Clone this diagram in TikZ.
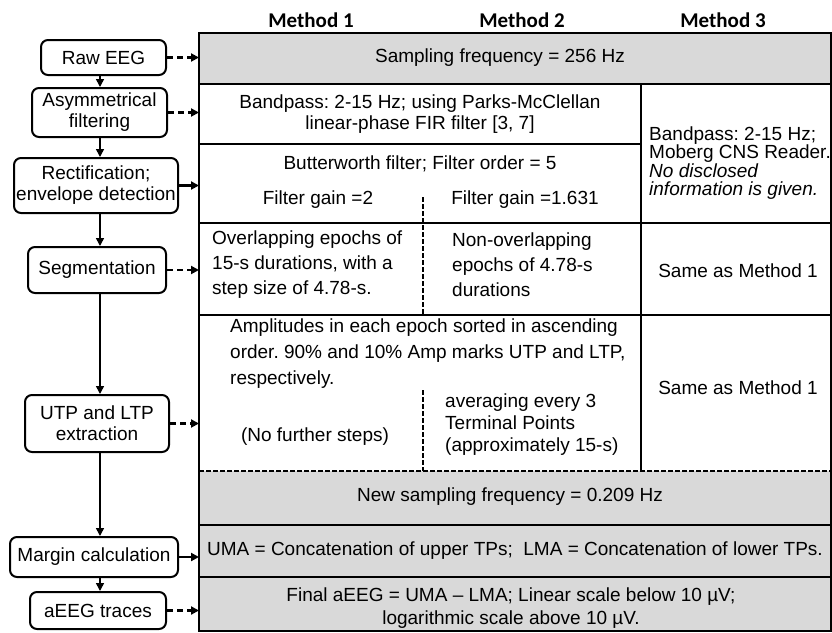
\documentclass[tikz,border=0pt]{standalone}
\usepackage{fontspec}
\setmainfont{Liberation Sans}
\newfontfamily\headfont{Carlito}
\usetikzlibrary{arrows.meta, calc}
\definecolor{cellGray}{gray}{0.85}
\newcommand{\bodyfont}[1]{\fontsize{19}{#1}\selectfont}
\frenchspacing

\begin{document}
\begin{tikzpicture}[x=1pt, y=-1pt,
  every node/.style={inner sep=0pt, font=\bodyfont{21}},
  stage/.style={draw, rounded corners=7pt, line width=2pt, align=center},
  flow/.style={-{Triangle[length=8pt, width=8pt]}, line width=1.5pt},
  link/.style={flow, line width=2.4pt},
  dlink/.style={link, dash pattern=on 6pt off 4pt},
  tabline/.style={line width=2pt},
  tabdash/.style={line width=1.5pt, dash pattern=on 4.5pt off 2.5pt},
  head/.style={font=\headfont\bfseries\fontsize{21}{24}\selectfont}]

  \useasboundingbox (0,0) rectangle (832,632);

  \coordinate (TL) at (199,33);
  \coordinate (BR) at (831,631);
  \coordinate (spine) at (100,0);

  % table
  \fill[cellGray] (TL) rectangle (831,84);
  \fill[cellGray] (199,471) rectangle (BR);
  \draw[tabline] (199,84) -- (831,84);
  \draw[tabline] (199,144) -- (641,144);
  \draw[tabline] (199,223) -- (831,223);
  \draw[tabline] (199,315) -- (831,315);
  \draw[tabdash] (199,471) -- (831,471);
  \draw[tabline] (199,525) -- (831,525);
  \draw[tabline] (199,577) -- (831,577);
  \draw[tabline] (641,84) -- (641,471);
  \draw[tabdash] (423,197) -- (423,315);
  \draw[tabdash] (423,390) -- (423,471);
  \draw[line width=2.4pt] (TL) rectangle (BR);

  \node[head] (m1) at (311,20) {Method 1};
  \node[head] (m2) at (522,20) {Method 2};
  \node[head] (m3) at (723,20) {Method 3};

  \node (fs) at (500,58) {Sampling frequency = 256 Hz};
  \node[align=center] (bp) at (420,114) {Bandpass: 2-15 Hz; using Parks-McClellan\\linear-phase FIR filter [3, 7]};
  \node[anchor=west, align=left, font=\bodyfont{18.5}] (moberg) at (649,163) {Bandpass: 2-15 Hz;\\Moberg CNS Reader.\\\textit{No disclosed}\\\textit{information is given.}};
  \node (bw) at (420,164) {Butterworth filter; Filter order = 5};
  \node (g1) at (318,200) {Filter gain =2};
  \node (g2) at (525,200) {Filter gain =1.631};
  \node[anchor=west, align=left, font=\bodyfont{25}] (ep1) at (212,265) {Overlapping epochs of\\15-s durations, with a\\step size of 4.78-s.};
  \node[anchor=west, align=left, font=\bodyfont{25}] (ep2) at (452,265) {Non-overlapping\\epochs of 4.78-s\\durations};
  \node (same1) at (738,271) {Same as Method 1};
  \node[anchor=west, align=left, font=\bodyfont{26}] (amp) at (230,354) {Amplitudes in each epoch sorted in ascending\\order. 90\% and 10\% Amp marks UTP and LTP,\\respectively.};
  \node (nofur) at (315,437) {(No further steps)};
  \node[anchor=west, align=left, font=\bodyfont{22}] (avg) at (445,425) {averaging every 3\\Terminal Points\\(approximately 15-s)};
  \node (same2) at (738,388) {Same as Method 1};
  \node (nfs) at (510,497) {New sampling frequency = 0.209 Hz};
  \node (uma) at (515,551) {UMA = Concatenation of upper TPs;\ \ LMA = Concatenation of lower TPs.};
  \node[align=center, font=\bodyfont{23}] (fin) at (511,608) {Final aEEG = UMA -- LMA; Linear scale below 10 µV;\\logarithmic scale above 10 µV.};

  % processing stages
  \node[stage, minimum width=125pt, minimum height=35pt] (raw) at (103.5,57.5) {Raw EEG};
  \node[stage, minimum width=135pt, minimum height=49pt] (asym) at (99.5,112.5) {Asymmetrical\\filtering};
  \node[stage, minimum width=164pt, minimum height=55pt] (rect) at (96,185.5) {Rectification;\\envelope detection};
  \node[stage, minimum width=138pt, minimum height=46pt] (seg) at (97,270) {Segmentation};
  \node[stage, minimum width=144pt, minimum height=57pt] (utp) at (97,423.5) {UTP and LTP\\extraction};
  \node[stage, minimum width=168pt, minimum height=40pt] (marg) at (94,557) {Margin calculation};
  \node[stage, minimum width=136pt, minimum height=37pt] (trace) at (98,610.5) {aEEG traces};

  \draw[flow] (raw.south -| spine) -- (asym.north -| spine);
  \draw[flow] (asym.south -| spine) -- (rect.north -| spine);
  \draw[flow] (rect.south -| spine) -- (seg.north -| spine);
  \draw[flow] (seg.south -| spine) -- (utp.north -| spine);
  \draw[flow] (utp.south -| spine) -- (marg.north -| spine);
  \draw[flow] (marg.south -| spine) -- (trace.north -| spine);

  \draw[dlink] (raw) -- (raw -| TL);
  \draw[dlink] (asym) -- (asym -| TL);
  \draw[link] (rect) -- (rect -| TL);
  \draw[dlink] (seg) -- (seg -| TL);
  \draw[dlink] (utp) -- (utp -| TL);
  \draw[link] (marg) -- (marg -| TL);
  \draw[dlink] (trace) -- (trace -| TL);

\end{tikzpicture}
\end{document}
